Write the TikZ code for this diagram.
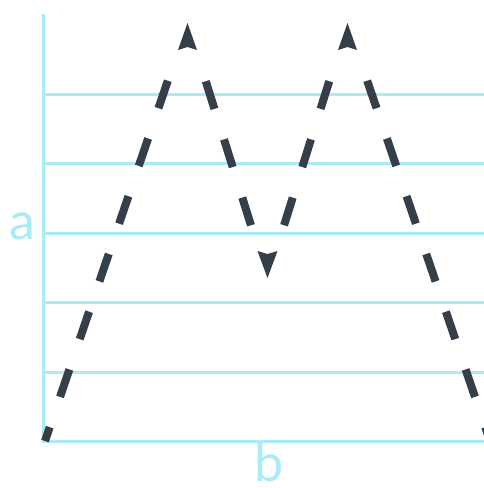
\documentclass[tikz,border=0pt]{standalone}
\usepackage{fontspec}
\setmainfont{Lato}
\usetikzlibrary{calc}
\definecolor{gridc}{HTML}{AAECF6}
\definecolor{dashc}{HTML}{343F4A}
\tikzset{
  gridline/.style={draw=gridc, line width=3pt},
  dashpath/.style={draw=dashc, line width=8pt, dash pattern=on 29pt off 32pt, dash phase=29pt},
  headup/.style={fill=dashc},
  lbl/.style={text=gridc, font=\fontsize{52pt}{52pt}\selectfont, inner sep=0pt},
}
\begin{document}
\begin{tikzpicture}[x=1pt, y=-1pt]
  \useasboundingbox (0,0) rectangle (484,488);
  \begin{scope}
    \clip (0,0) rectangle (484,488);
    % grid
    \draw[gridline] (43,14) -- (43,442.5);
    \foreach \yy in {94,163,233,302,372,441} {
      \draw[gridline] (43,\yy) -- (484,\yy);
    }
    % key points
    \coordinate (p0) at (45,441);
    \coordinate (p1) at (187.5,23);
    \coordinate (p2) at (267.5,278);
    \coordinate (p3) at (347.5,23);
    \coordinate (p4) at (490,441);
    % dashed strokes, each drawn from its apex outward (first dash hidden under the tip)
    \draw[dashpath] ($(p1)!29pt!(p0)$) -- (p0);
    \draw[dashpath] ($(p1)!29pt!(p2)$) -- ($(p2)!29pt!(p1)$);
    \draw[dashpath] ($(p3)!29pt!(p2)$) -- ($(p2)!29pt!(p3)$);
    \draw[dashpath] ($(p3)!29pt!(p4)$) -- (p4);
    % arrowheads
    \fill[headup] (p1) -- ++(9.5,27) -- ++(-9.5,-3) -- ++(-9.5,3) -- cycle;
    \fill[headup] (p3) -- ++(9.5,27) -- ++(-9.5,-3) -- ++(-9.5,3) -- cycle;
    \fill[headup] (p2) -- ++(10,-27) -- ++(-10,3) -- ++(-10,-3) -- cycle;
  \end{scope}
  \node[lbl] (la) at (22,226) {a};
  \node[lbl, anchor=base] (lb) at (269,481) {b};
\end{tikzpicture}
\end{document}
